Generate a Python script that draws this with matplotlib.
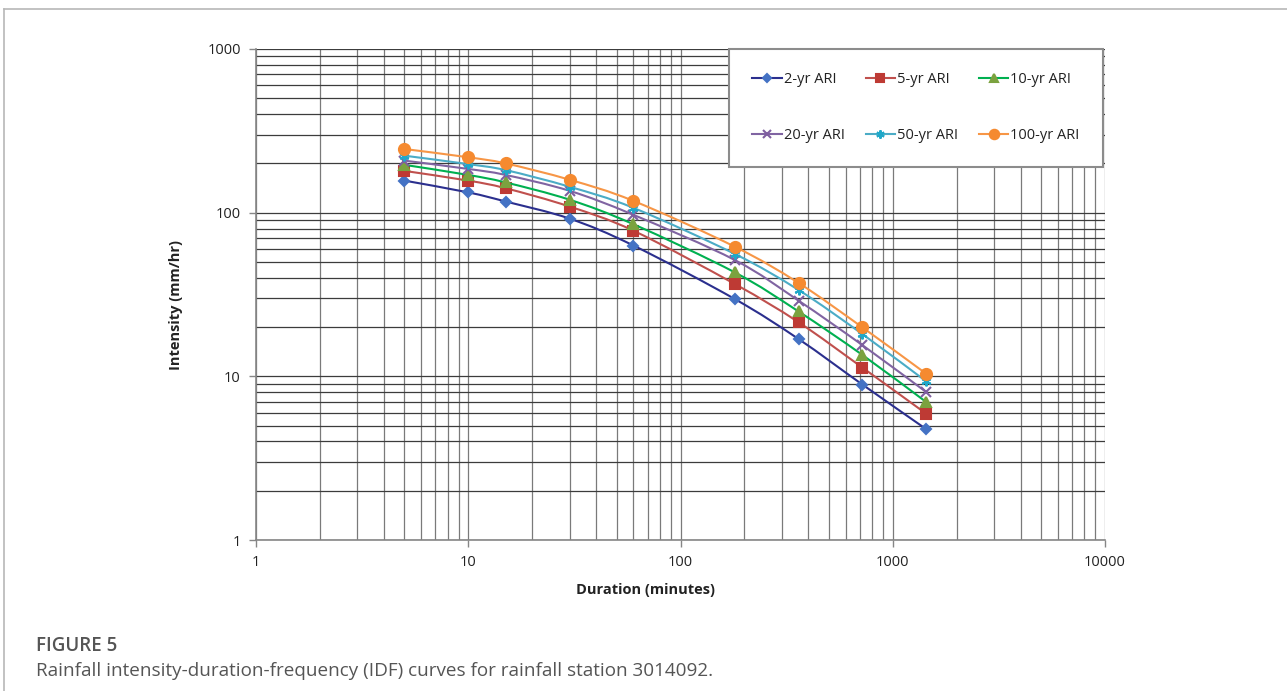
import numpy as np
import matplotlib
matplotlib.use("Agg")
import matplotlib.pyplot as plt
from matplotlib.path import Path
from matplotlib.patches import PathPatch
from matplotlib.lines import Line2D
from matplotlib.ticker import LogLocator, FixedLocator, FixedFormatter, NullFormatter

# ---------------- data ----------------
durations = [5, 10, 15, 30, 60, 180, 360, 720, 1440]
series_labels = ["2-yr ARI", "5-yr ARI", "10-yr ARI", "20-yr ARI", "50-yr ARI", "100-yr ARI"]
ari_2 = [157, 133, 117, 92, 63, 29.7, 16.9, 8.9, 4.75]
ari_5 = [180, 157, 141, 109, 77.6, 36.7, 21.4, 11.3, 5.9]
ari_10 = [196, 170, 153, 120, 85, 43.2, 24.9, 13.5, 6.95]
ari_20 = [208, 185, 170, 136, 97, 51.4, 29.0, 15.5, 8.0]
ari_50 = [223, 198, 182, 144, 107, 56, 33.7, 18.1, 9.3]
ari_100 = [245, 218, 200, 159, 118, 62, 37.2, 19.9, 10.35]
series_values = [ari_2, ari_5, ari_10, ari_20, ari_50, ari_100]
x_tick_labels = ["1", "10", "100", "1000", "10000"]
y_tick_labels = ["1", "10", "100", "1000"]

# ---------------- styles ----------------
line_colors = ["#2B2F8E", "#C0504D", "#00B050", "#8064A2", "#4BACC6", "#F79646"]
marker_colors = ["#4472C4", "#BE3A34", "#7BA23F", "#7F5FA0", "#1FA8C9", "#F58A30"]
markers = ["D", "s", "^", "x", (6, 2, 0), "o"]
msizes = [5, 7, 7.5, 7, 7, 8]

plt.rcParams["font.family"] = ["Open Sans", "DejaVu Sans"]

W, H = 1287, 691
fig = plt.figure(figsize=(W / 100, H / 100), dpi=100)
ax = fig.add_axes([256 / W, 1 - 540 / H, (1105 - 256) / W, (540 - 49) / H])

ax.set_xscale("log")
ax.set_yscale("log")
ax.set_xlim(1, 10000)
ax.set_ylim(1, 1000)

# grid
ax.xaxis.set_minor_locator(LogLocator(base=10, subs=np.arange(2, 10)))
ax.yaxis.set_minor_locator(LogLocator(base=10, subs=np.arange(2, 10)))
ax.xaxis.set_minor_formatter(NullFormatter())
ax.yaxis.set_minor_formatter(NullFormatter())
ax.xaxis.set_major_locator(FixedLocator([1, 10, 100, 1000, 10000]))
ax.xaxis.set_major_formatter(FixedFormatter(x_tick_labels))
ax.yaxis.set_major_locator(FixedLocator([1, 10, 100, 1000]))
ax.yaxis.set_major_formatter(FixedFormatter(y_tick_labels))
ax.grid(True, which="both", axis="x", color="#7a7a7a", lw=0.9)
ax.grid(True, which="both", axis="y", color="#3c3c3c", lw=0.9)
ax.set_axisbelow(True)
ax.tick_params(which="minor", length=0)
ax.tick_params(which="major", length=5, color="#868686", width=1,
               labelsize=10.5, labelcolor="#222222", pad=6)
for s in ["top", "right"]:
    ax.spines[s].set_visible(False)
for s in ["left", "bottom"]:
    ax.spines[s].set_color("#868686")
    ax.spines[s].set_linewidth(1.2)


def smooth_path(xs, ys):
    lx = np.log10(np.asarray(xs, float))
    ly = np.log10(np.asarray(ys, float))
    P = np.column_stack([lx, ly])
    n = len(P)
    verts = [P[0]]
    codes = [Path.MOVETO]
    for i in range(n - 1):
        p0 = P[i - 1] if i > 0 else P[i]
        p1 = P[i]
        p2 = P[i + 1]
        p3 = P[i + 2] if i + 2 < n else P[i + 1]
        c1 = p1 + (p2 - p0) / 6.0
        c2 = p2 - (p3 - p1) / 6.0
        verts += [c1, c2, p2]
        codes += [Path.CURVE4] * 3
    verts = 10 ** np.array(verts)
    return Path(verts, codes)


handles = []
for i, (lab, vals) in enumerate(zip(series_labels, series_values)):
    z = 3 + i
    patch = PathPatch(smooth_path(durations, vals), facecolor="none",
                      edgecolor=line_colors[i], lw=1.5, zorder=z,
                      transform=ax.transData)
    ax.add_patch(patch)
    mfc = marker_colors[i]
    ax.plot(durations, vals, linestyle="none", marker=markers[i], ms=msizes[i],
            markerfacecolor=mfc, markeredgecolor=mfc, mew=1.5, zorder=z + 0.5)
    handles.append(Line2D([], [], color=line_colors[i], lw=1.5, marker=markers[i],
                          ms=msizes[i] * 0.85, markerfacecolor=mfc,
                          markeredgecolor=mfc, mew=1.5, label=lab))

# legend fills column by column; reorder so rows read 2,5,10 / 20,50,100
order = [0, 3, 1, 4, 2, 5]
leg = ax.legend(handles=[handles[k] for k in order], ncol=3, loc="upper right",
                bbox_to_anchor=((729 - 256) / 849, (540 - 161) / 491,
                                (1103 - 729) / 849, (161 - 49) / 491),
                mode="expand", borderaxespad=0, fontsize=10.5,
                handlelength=2.0, handletextpad=0.15, labelspacing=2.8,
                borderpad=1.6, fancybox=False, framealpha=1,
                edgecolor="#8c8c8c")
leg.get_frame().set_linewidth(1.5)
for t in leg.get_texts():
    t.set_color("#222222")
leg.set_zorder(20)

ax.set_xlabel("Duration (minutes)", fontsize=10.5, fontweight="bold",
              color="#222222")
ax.xaxis.set_label_coords((646 - 256) / 849, -(590 - 540) / 491)
ax.xaxis.label.set_va("center")
ax.set_ylabel("Intensity (mm/hr)", fontsize=10.5, fontweight="bold",
              color="#222222")
ax.yaxis.set_label_coords(-(256 - 176) / 849, (540 - 305) / 491)
ax.yaxis.label.set_va("center")

# figure card border
fig.add_artist(Line2D([4 / W, 4 / W], [0, 1 - 9 / H], color="#b8b8b8", lw=1.2,
                      transform=fig.transFigure))
fig.add_artist(Line2D([4 / W, 1], [1 - 9 / H, 1 - 9 / H], color="#b8b8b8", lw=1.2,
                      transform=fig.transFigure))

fig.text(36 / W, 1 - 646 / H, "FIGURE 5", fontsize=13.5, color="#555555",
         fontweight="semibold", va="center", ha="left")
fig.text(36 / W, 1 - 671 / H,
         "Rainfall intensity-duration-frequency (IDF) curves for rainfall station 3014092.",
         fontsize=13.6, color="#555555", va="center", ha="left")

fig.savefig("out.png", dpi=100)
